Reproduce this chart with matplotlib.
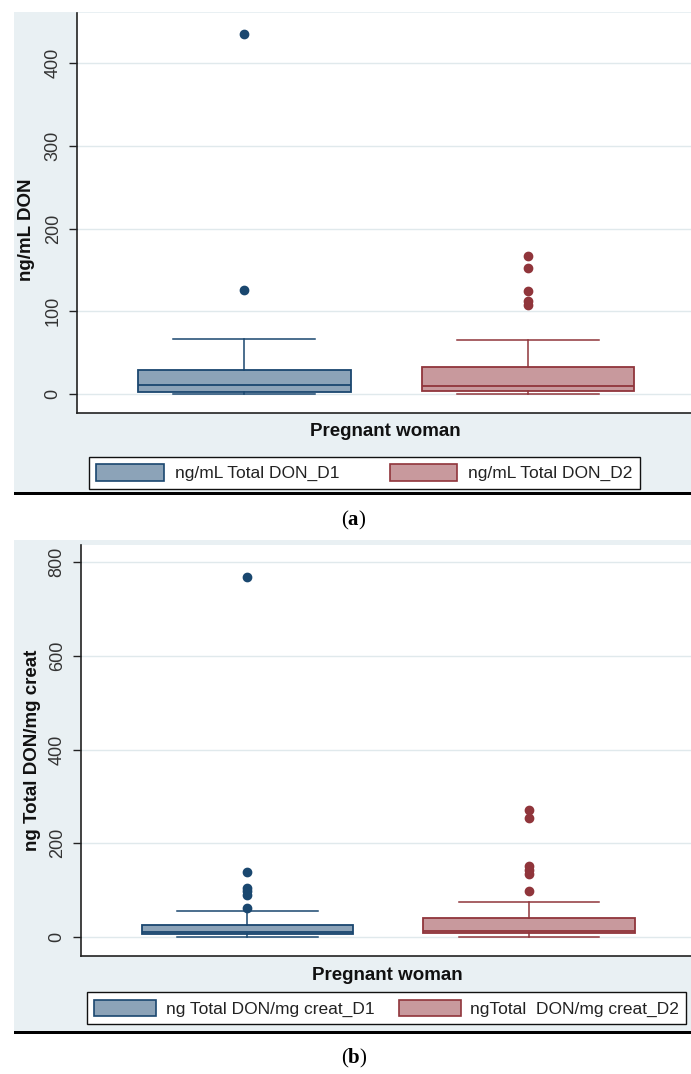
import matplotlib
matplotlib.use("Agg")
import matplotlib.pyplot as plt
from matplotlib.patches import Rectangle, Patch

plt.rcParams['font.family'] = ['Liberation Sans', 'DejaVu Sans']
plt.rcParams['mathtext.fontset'] = 'custom'
plt.rcParams['mathtext.rm'] = 'Liberation Serif'
plt.rcParams['mathtext.bf'] = 'Liberation Serif:bold'

# ---------------- data ----------------
group_labels = ["D1", "D2"]

# Panel (a): ng/mL Total DON
a_q1 = [2.4, 4.0]
a_med = [10.4, 9.7]
a_q3 = [29.4, 33.0]
a_whislo = [0.5, 0.3]
a_whishi = [66.8, 64.8]
a_fliers_d1 = [126, 436]
a_fliers_d2 = [108, 112, 124, 152, 167]
a_ticks = [0, 100, 200, 300, 400]
a_legend = ["ng/mL Total DON_D1", "ng/mL Total DON_D2"]

# Panel (b): ng Total DON / mg creatinine
b_q1 = [7.0, 7.8]
b_med = [11.4, 12.0]
b_q3 = [25.6, 40.0]
b_whislo = [0.5, 0.3]
b_whishi = [54.8, 73.8]
b_fliers_d1 = [62.6, 89.7, 98, 105, 138.8, 769]
b_fliers_d2 = [99, 135, 143.7, 151, 254, 271.8]
b_ticks = [0, 200, 400, 600, 800]
b_legend = ["ng Total DON/mg creat_D1", "ngTotal  DON/mg creat_D2"]

# ---------------- style ----------------
W, H = 691, 1074
BG = '#E9F0F3'
GRID = '#E0E9EC'
NAVY = '#1A476F'
MAROON = '#90353B'
NAVY_FILL = '#8CA3B8'
MAROON_FILL = '#C8999D'
edge_cols = [NAVY, MAROON]
fill_cols = [NAVY_FILL, MAROON_FILL]

fig = plt.figure(figsize=(W / 100, H / 100), dpi=100)


def fr(x0, y0, x1, y1):
    return [x0 / W, 1 - y1 / H, (x1 - x0) / W, (y1 - y0) / H]


def bg(x0, y0, x1, y1, color):
    fig.add_artist(Rectangle((x0 / W, 1 - y1 / H), (x1 - x0) / W, (y1 - y0) / H,
                             transform=fig.transFigure, facecolor=color,
                             edgecolor='none', zorder=0))


def panel(rect, ylim, ticks, q1, med, q3, wlo, whi, fliers, ylabel,
          ylab_xy, xlab_xy, legend_labels, leg_kw, leg_xy):
    ax = fig.add_axes(fr(*rect))
    ax.set_facecolor('white')
    stats = []
    for i in range(2):
        stats.append(dict(med=med[i], q1=q1[i], q3=q3[i], whislo=wlo[i],
                          whishi=whi[i], fliers=fliers[i], label=group_labels[i]))
    for i in range(2):
        ec, fc = edge_cols[i], fill_cols[i]
        ax.bxp([stats[i]], positions=[i + 1], widths=0.75, capwidths=0.5,
               patch_artist=True, showfliers=True,
               boxprops=dict(facecolor=fc, edgecolor=ec, linewidth=1.3),
               medianprops=dict(color=ec, linewidth=1.3),
               whiskerprops=dict(color=ec, linewidth=1.1),
               capprops=dict(color=ec, linewidth=1.1),
               flierprops=dict(marker='o', markerfacecolor=ec, markeredgecolor=ec,
                               markersize=6, linestyle='none'))
    ax.set_xlim(0.41, 2.575)
    ax.set_ylim(*ylim)
    ax.set_xticks([])
    ax.set_yticks(ticks)
    ax.set_yticklabels([str(t) for t in ticks], rotation=90, va='center',
                       fontsize=13, color='#333333')
    ax.tick_params(axis='y', length=6, width=1, color='#222222', pad=5)
    ax.yaxis.grid(True, color=GRID, linewidth=1.0)
    ax.set_axisbelow(True)
    for s in ['top', 'right']:
        ax.spines[s].set_visible(False)
    for s in ['left', 'bottom']:
        ax.spines[s].set_color('#222222')
        ax.spines[s].set_linewidth(1.2)
    ax.set_ylabel(ylabel, fontsize=13.5, fontweight='bold', color='#111111')
    ax.yaxis.set_label_coords(ylab_xy[0] / W, 1 - ylab_xy[1] / H,
                              transform=fig.transFigure)
    ax.yaxis.label.set_va('center')
    ax.set_xlabel("Pregnant woman", fontsize=13.5, fontweight='bold', color='#111111')
    ax.xaxis.set_label_coords(xlab_xy[0] / W, 1 - xlab_xy[1] / H,
                              transform=fig.transFigure)
    ax.xaxis.label.set_va('center')
    handles = [Patch(facecolor=fill_cols[i], edgecolor=edge_cols[i], linewidth=1.2)
               for i in range(2)]
    leg = fig.legend(handles, legend_labels, loc='upper left',
                     bbox_to_anchor=(leg_xy[0] / W, 1 - leg_xy[1] / H),
                     ncol=2, frameon=True, fancybox=False, shadow=False,
                     framealpha=1, borderaxespad=0, prop=dict(size=12.5),
                     **leg_kw)
    leg.get_frame().set_edgecolor('#111111')
    leg.get_frame().set_linewidth(1.0)
    for t in leg.get_texts():
        t.set_color('#222222')
    return ax


# Panel (a)
bg(14, 12, 691, 492, BG)
bg(14, 492, 691, 495, 'black')
panel(rect=(77, 13, 691, 413.3), ylim=(-23.3, 460.8), ticks=a_ticks,
      q1=a_q1, med=a_med, q3=a_q3, wlo=a_whislo, whi=a_whishi,
      fliers=[a_fliers_d1, a_fliers_d2], ylabel="ng/mL DON",
      ylab_xy=(27, 230), xlab_xy=(385, 432),
      legend_labels=a_legend,
      leg_kw=dict(handlelength=3.9, handleheight=1.1, handletextpad=0.63,
                  columnspacing=2.9, borderpad=0.42),
      leg_xy=(89, 456.7))

# Panel (b)
bg(14, 540, 691, 1031, BG)
bg(14, 1031, 691, 1034, 'black')
panel(rect=(81, 545, 691, 956), ylim=(-40.6, 837), ticks=b_ticks,
      q1=b_q1, med=b_med, q3=b_q3, wlo=b_whislo, whi=b_whishi,
      fliers=[b_fliers_d1, b_fliers_d2], ylabel="ng Total DON/mg creat",
      ylab_xy=(33, 750), xlab_xy=(387, 975),
      legend_labels=b_legend,
      leg_kw=dict(handlelength=3.57, handleheight=1.04, handletextpad=0.56,
                  columnspacing=1.38, borderpad=0.42),
      leg_xy=(87, 992.3))

fig.text(354 / W, 1 - 520 / H, r'($\mathbf{a}$)', ha='center', va='center',
         fontsize=15, family='Liberation Serif')
fig.text(354 / W, 1 - 1058 / H, r'($\mathbf{b}$)', ha='center', va='center',
         fontsize=15, family='Liberation Serif')

fig.savefig('out.png', dpi=100, facecolor='white')
